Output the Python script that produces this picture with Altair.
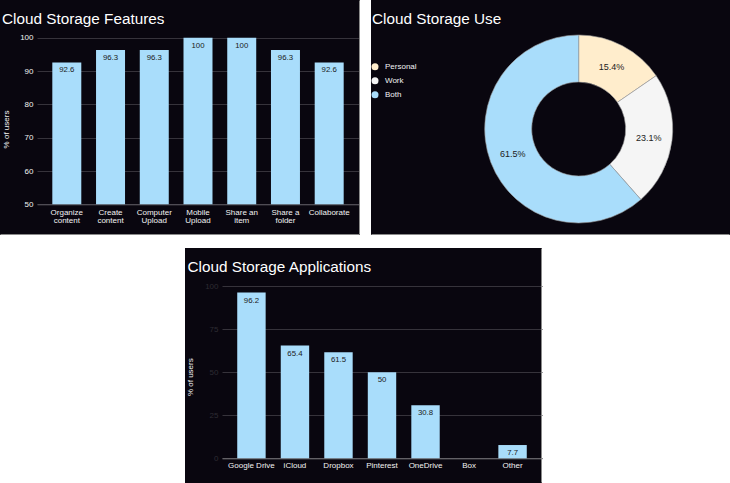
import altair as alt
import pandas as pd

# ---------------- data ----------------
FEATURES = ["Organize content", "Create content", "Computer Upload", "Mobile Upload",
            "Share an item", "Share a folder", "Collaborate"]
FEATURE_PCT = [92.6, 96.3, 96.3, 100, 100, 96.3, 92.6]
FEATURE_TICKS = [50, 60, 70, 80, 90, 100]

USE_TYPES = ["Personal", "Work", "Both"]
USE_PCT = [15.4, 23.1, 61.5]

APPS = ["Google Drive", "iCloud", "Dropbox", "Pinterest", "OneDrive", "Box", "Other"]
APP_PCT = [96.2, 65.4, 61.5, 50, 30.8, 0, 7.7]
APP_TICKS = [0, 25, 50, 75, 100]

TITLES = ["Cloud Storage Features", "Cloud Storage Use", "Cloud Storage Applications"]
Y_TITLE = "% of users"

# ---------------- style ----------------
FONT = "Liberation Sans"
BG = "#09060f"
BAR = "#a9ddfb"
GRID = "#36333b"
EDGE = "#8a8a8a"
TXT = "#f2f2f2"
PIE_COLORS = ["#ffedcc", "#f5f5f5", "#a9ddfb"]
ONE = alt.Data(values=[{}])
PANEL_H = 235


def title_mark(text, x, y):
    return alt.Chart(pd.DataFrame({"t": [text]})).mark_text(
        align="left", baseline="alphabetic", fontSize=15.3, font=FONT, color="white"
    ).encode(x=alt.value(x), y=alt.value(y), text="t:N")


def vrule(x, y, y2):
    return alt.Chart(ONE).mark_rule(color=EDGE, strokeWidth=1).encode(
        x=alt.value(x), y=alt.value(y), y2=alt.value(y2))


def hrule(y, x, x2):
    return alt.Chart(ONE).mark_rule(color=EDGE, strokeWidth=1).encode(
        y=alt.value(y), x=alt.value(x), x2=alt.value(x2))


SPLIT = ("lastindexof(datum.label, ' ') > 0 ? "
         "[substring(datum.label, 0, lastindexof(datum.label, ' ')), "
         "substring(datum.label, lastindexof(datum.label, ' ') + 1)] : datum.label")


def y_axis(ticks, label_color, title_x, title_y):
    return alt.Axis(values=ticks, labelColor=label_color, labelFontSize=8, labelPadding=4,
                    ticks=False, domain=False, grid=True, gridColor=GRID, offset=-37,
                    minExtent=0, maxExtent=40,
                    titleColor=TXT, titleFontSize=8, titleFontWeight="normal",
                    titleX=title_x, titleY=title_y, titleAngle=270, titleBaseline="middle",
                    titleAlign="center")


def x_axis(domain_color, pad, offset, expr=None):
    kw = dict(labelAngle=0, labelColor=TXT, labelFontSize=8, labelPadding=pad,
              labelLineHeight=8, ticks=False, domain=True, domainColor=domain_color,
              grid=False, offset=offset, minExtent=0, maxExtent=25)
    if expr:
        kw["labelExpr"] = expr
    return alt.Axis(**kw)


# ---------------- panel 1: features ----------------
W1 = 360
feat_df = pd.DataFrame({"feature": FEATURES, "pct": FEATURE_PCT})
x1 = alt.X("feature:N", sort=FEATURES, title=None,
           scale=alt.Scale(range=[37, 359], paddingInner=0.337, paddingOuter=0.35),
           axis=x_axis("#5a5860", 4, -30.7, SPLIT))
y1 = alt.Y("pct:Q", title=Y_TITLE, scale=alt.Scale(domain=[50, 100], range=[204.3, 37.8]),
           axis=y_axis(FEATURE_TICKS, TXT, -31, 129))
bars1 = alt.Chart(feat_df).mark_bar(color=BAR).encode(x=x1, y=y1, y2=alt.datum(50))
lab1 = alt.Chart(feat_df).mark_text(baseline="middle", dy=8, fontSize=7.8, color="#1a1a1a").encode(
    x=x1, y=y1, text="pct:Q")
p1 = alt.layer(
    bars1, lab1,
    title_mark(TITLES[0], 2, 24),
    vrule(359.5, 0.5, PANEL_H - 0.5), hrule(PANEL_H - 0.5, 0.5, W1 - 0.5),
).properties(width=W1, height=PANEL_H, view=alt.ViewBackground(fill=BG))

# ---------------- panel 2: use ----------------
W2 = 359
use_df = pd.DataFrame({"type": USE_TYPES, "pct": USE_PCT, "idx": list(range(len(USE_TYPES)))})
base2 = alt.Chart(use_df).transform_calculate(label="format(datum.pct, '.1f') + '%'")
arc = base2.mark_arc(innerRadius=47, radius=94, stroke="#9a9a9a", strokeWidth=0.6).encode(
    theta=alt.Theta("pct:Q", stack=True),
    order=alt.Order("idx:Q"),
    color=alt.Color("type:N", scale=alt.Scale(domain=USE_TYPES, range=PIE_COLORS),
                    legend=alt.Legend(orient="none", legendX=0, legendY=62.7, title=None,
                                      labelColor=TXT, labelFontSize=8, symbolType="circle",
                                      symbolSize=49, symbolStrokeWidth=0, rowPadding=6,
                                      labelOffset=6, padding=0)),
    x=alt.value(207.7), y=alt.value(129),
)
arc_lab = base2.mark_text(radius=70.5, fontSize=9, color="#222222").encode(
    theta=alt.Theta("pct:Q", stack=True),
    order=alt.Order("idx:Q"),
    text="label:N",
    x=alt.value(207.7), y=alt.value(129),
)
p2 = alt.layer(
    arc, arc_lab, title_mark(TITLES[1], 1, 24), hrule(PANEL_H - 0.5, 0.5, W2 - 0.5)
).properties(width=W2, height=PANEL_H, view=alt.ViewBackground(fill=BG))

# ---------------- panel 3: applications ----------------
W3 = 357
app_df = pd.DataFrame({"app": APPS, "pct": APP_PCT})
x3 = alt.X("app:N", sort=APPS, title=None,
           scale=alt.Scale(range=[37, 357], paddingInner=0.347, paddingOuter=0.35),
           axis=x_axis("#77757a", 3, -24.7))
y3 = alt.Y("pct:Q", title=Y_TITLE, scale=alt.Scale(domain=[0, 100], range=[210.3, 38]),
           axis=y_axis(APP_TICKS, "#2e2c33", -32, 128.7))
bars3 = alt.Chart(app_df).mark_bar(color=BAR).encode(x=x3, y=y3)
lab3 = alt.Chart(app_df).transform_filter("datum.pct > 0").mark_text(
    baseline="middle", dy=8, fontSize=7.8, color="#1a1a1a").encode(x=x3, y=y3, text="pct:Q")
p3 = alt.layer(
    bars3, lab3,
    title_mark(TITLES[2], 2.5, 23.5),
    vrule(W3 - 0.5, 0.5, PANEL_H - 0.5),
).properties(width=W3, height=PANEL_H, view=alt.ViewBackground(fill=BG))

spacer = alt.Chart(ONE).mark_rect(color="white").encode(
    x=alt.value(0), x2=alt.value(185), y=alt.value(0), y2=alt.value(PANEL_H)
).properties(width=185, height=PANEL_H, view=alt.ViewBackground(fill="white"))

row1 = alt.hconcat(p1, p2, spacing=11).resolve_scale(color="independent")
row2 = alt.hconcat(spacer, p3, spacing=0).resolve_scale(color="independent")

chart = alt.vconcat(row1, row2, spacing=13).resolve_scale(
    color="independent"
).properties(
    padding={"left": 0, "top": 0, "right": 0, "bottom": 0}, background="white"
).configure_view(stroke=None).configure_axis(
    labelFont=FONT, titleFont=FONT
).configure_legend(labelFont=FONT).configure_text(font=FONT)

chart.save("out.html", embed_options={"renderer": "svg", "actions": False})
